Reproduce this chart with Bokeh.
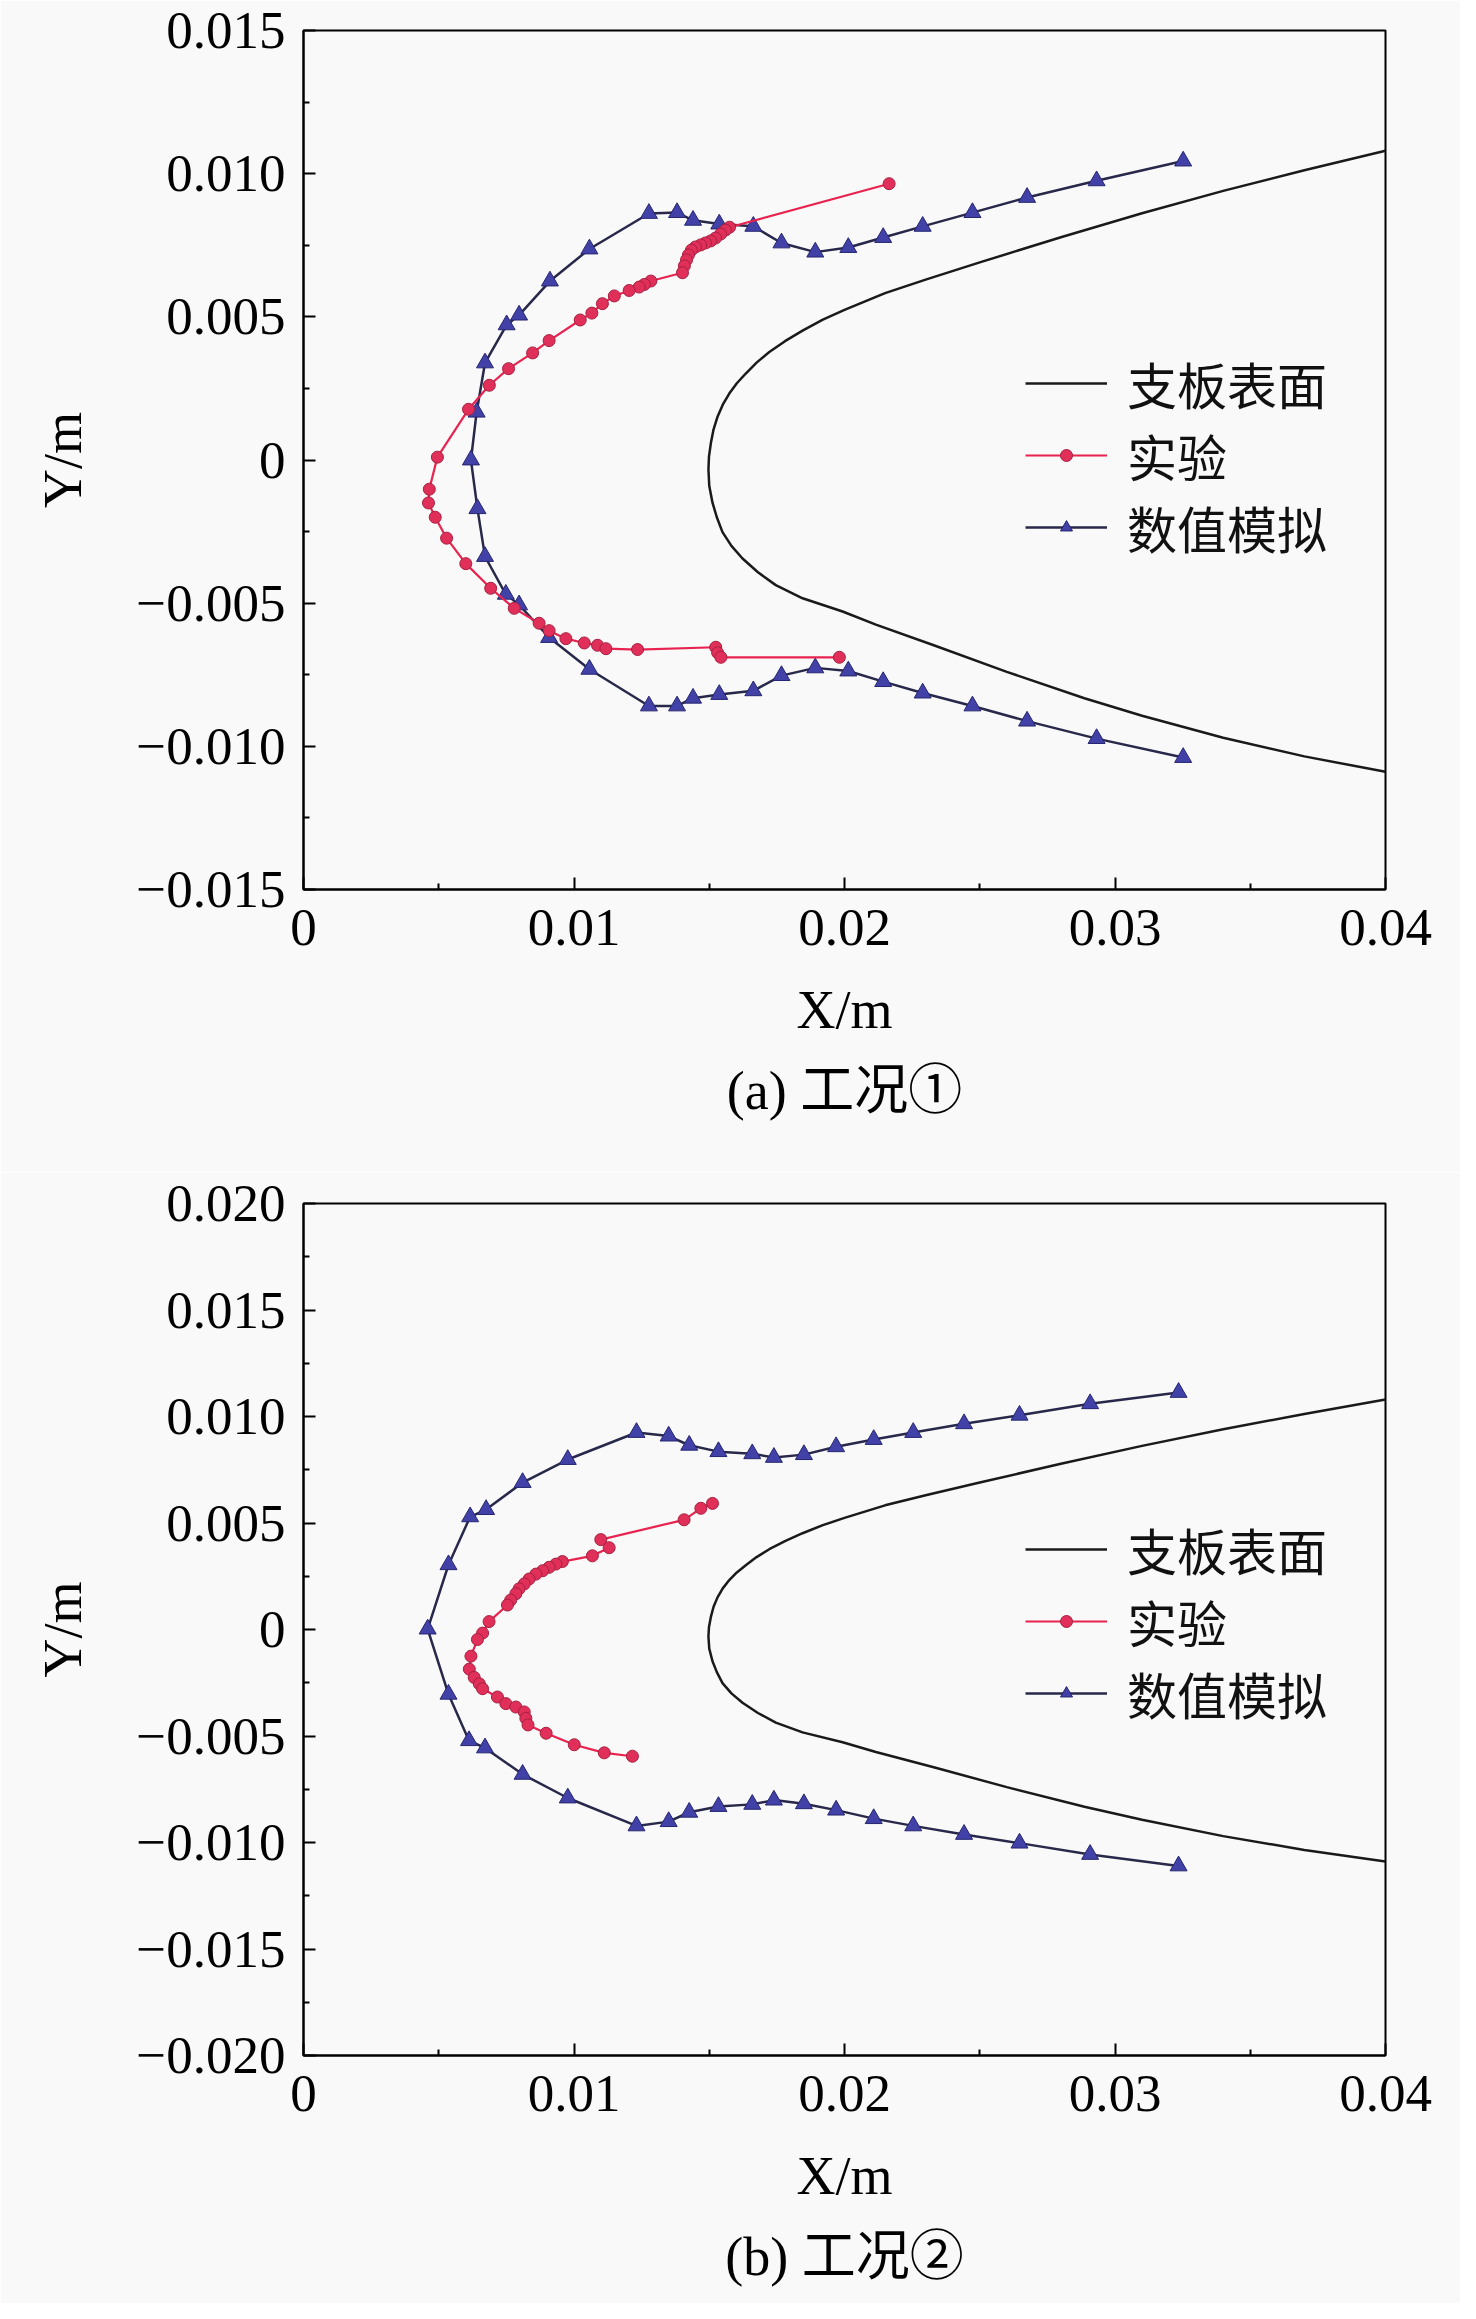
from bokeh.plotting import figure
from bokeh.models import FixedTicker, Legend, LegendItem, Title
from bokeh.layouts import column
from bokeh.embed import file_html
from bokeh.resources import INLINE

# ---------------- data ----------------
# strut surface (same in both panels)
strut_x = [0.0400, 0.0370, 0.0340, 0.0310, 0.0280, 0.0250, 0.0230, 0.0215, 0.0200,
           0.0192, 0.01845, 0.01780, 0.01722, 0.01675, 0.01635, 0.01602, 0.01574, 0.01550,
           0.01531, 0.01516, 0.01506, 0.01499, 0.01497, 0.01500,
           0.01512, 0.01528, 0.01549, 0.01582, 0.01623, 0.01680, 0.01746, 0.01845, 0.01993,
           0.02116, 0.0233, 0.0260, 0.02887, 0.0310, 0.0340, 0.0370, 0.0400]
strut_y = [0.01080, 0.01012, 0.00940, 0.00862, 0.00778, 0.00690, 0.00630, 0.00583, 0.00524,
           0.00490, 0.00452, 0.00415, 0.00377, 0.00340, 0.00302, 0.00268, 0.00232, 0.00193,
           0.00152, 0.00107, 0.00059, 0.00012, -0.00033, -0.00090,
           -0.00149, -0.00200, -0.00252, -0.00300, -0.00344, -0.00392, -0.00437, -0.00483, -0.00529,
           -0.00575, -0.00647, -0.00740, -0.00832, -0.00893, -0.00970, -0.01035, -0.01089]

# case 1: experiment
exp1_x = [0.02165, 0.01575, 0.0156, 0.01542, 0.01523, 0.01505, 0.01486, 0.01468, 0.01449,
          0.01434, 0.01423, 0.01416, 0.01408, 0.01401, 0.01284, 0.0126, 0.01241, 0.01204,
          0.01149, 0.01105, 0.01066, 0.01023, 0.00908, 0.00847, 0.00758, 0.00687, 0.0061,
          0.00495, 0.00465, 0.00462, 0.00487, 0.00529, 0.006, 0.00692, 0.00779, 0.00871,
          0.00908, 0.0097, 0.01038, 0.01087, 0.01118, 0.01235, 0.01524, 0.01531, 0.01543,
          0.01981]
exp1_y = [0.00965, 0.00813, 0.00803, 0.00789, 0.00775, 0.00765, 0.00758, 0.00751, 0.00744,
          0.00733, 0.00716, 0.00699, 0.00678, 0.00654, 0.00625, 0.00613, 0.00604, 0.00592,
          0.00573, 0.00546, 0.00513, 0.00489, 0.00417, 0.00374, 0.00319, 0.00261, 0.00177,
          0.0001, -0.00102, -0.0015, -0.0020, -0.00273, -0.00362, -0.00448, -0.00518, -0.0057,
          -0.00596, -0.00624, -0.00639, -0.00647, -0.00659, -0.00662, -0.00654, -0.00673, -0.00689,
          -0.00689]

# case 1: simulation
sim1_x = [0.03252, 0.02932, 0.02675, 0.02473, 0.02289, 0.02143, 0.02014, 0.01892, 0.01767,
          0.01663, 0.01537, 0.0144, 0.01381, 0.01277, 0.01057, 0.00911, 0.00797, 0.00751,
          0.00671, 0.0064, 0.00619, 0.00643, 0.00671, 0.00748, 0.00797, 0.00908, 0.01057,
          0.01277, 0.01381, 0.0144, 0.01537, 0.01663, 0.01767, 0.01892, 0.02014, 0.02143,
          0.02289, 0.02473, 0.02675, 0.02932, 0.03252]
sim1_y = [0.01044, 0.00975, 0.00917, 0.00864, 0.00816, 0.00777, 0.00742, 0.00726, 0.00758,
          0.00816, 0.00824, 0.00837, 0.00864, 0.00861, 0.00737, 0.00625, 0.00506, 0.00472,
          0.00339, 0.00167, 0.0, -0.0017, -0.00337, -0.00469, -0.00506, -0.0062, -0.00731,
          -0.00859, -0.00859, -0.00832, -0.00819, -0.00806, -0.00753, -0.00726, -0.00737, -0.00774,
          -0.00814, -0.00859, -0.00912, -0.00973, -0.01039]

# case 2: experiment
exp2_x = [0.01512, 0.01469, 0.01407, 0.01099, 0.0113, 0.01068, 0.00957, 0.00933, 0.00908,
          0.00884, 0.00859, 0.00834, 0.00816, 0.00797, 0.00785, 0.00766, 0.00754, 0.00686,
          0.00662, 0.00643, 0.00619, 0.00613, 0.00631, 0.0065, 0.00662, 0.00717, 0.00748,
          0.00785, 0.00816, 0.00822, 0.0083, 0.00897, 0.01001, 0.01112, 0.01216]
exp2_y = [0.00592, 0.00569, 0.00515, 0.00422, 0.00384, 0.00346, 0.00319, 0.00307, 0.00292,
          0.00276, 0.0026, 0.00237, 0.00214, 0.00191, 0.00168, 0.00138, 0.00115, 0.00037,
          -0.00017, -0.00047, -0.00125, -0.00186, -0.00225, -0.00255, -0.00278, -0.00317, -0.00348,
          -0.00364, -0.00387, -0.00417, -0.00448, -0.00487, -0.00541, -0.00579, -0.00595]

# case 2: simulation
sim2_x = [0.03235, 0.02908, 0.02647, 0.02442, 0.02254, 0.02108, 0.01969, 0.0185, 0.01739,
          0.01659, 0.01534, 0.01426, 0.0135, 0.01231, 0.00977, 0.0081, 0.00675, 0.00616,
          0.00536, 0.00459, 0.00536, 0.00612, 0.00671, 0.0081, 0.00977, 0.01231, 0.0135,
          0.01426, 0.01534, 0.01659, 0.01739, 0.0185, 0.01969, 0.02108, 0.02254, 0.02442,
          0.02647, 0.02908, 0.03235]
sim2_y = [0.01113, 0.0106, 0.01006, 0.00966, 0.00925, 0.00892, 0.00858, 0.00821, 0.00808,
          0.00825, 0.00835, 0.00865, 0.00908, 0.00925, 0.00798, 0.0069, 0.00563, 0.00529,
          0.00304, 0.00002, -0.00304, -0.00522, -0.00556, -0.0068, -0.00791, -0.00922, -0.00902,
          -0.00858, -0.00831, -0.00821, -0.00801, -0.00818, -0.00848, -0.00888, -0.00922, -0.00962,
          -0.01003, -0.01056, -0.0111]

x_ticks = [0.0, 0.01, 0.02, 0.03, 0.04]
x_tick_labels = ["0", "0.01", "0.02", "0.03", "0.04"]
x_minor = [0.005, 0.015, 0.025, 0.035]

y1_ticks = [-0.015, -0.01, -0.005, 0.0, 0.005, 0.01, 0.015]
y1_tick_labels = ["\u22120.015", "\u22120.010", "\u22120.005", "0", "0.005", "0.010", "0.015"]
y1_minor = [-0.0125, -0.0075, -0.0025, 0.0025, 0.0075, 0.0125]

y2_ticks = [-0.02, -0.015, -0.01, -0.005, 0.0, 0.005, 0.01, 0.015, 0.02]
y2_tick_labels = ["\u22120.020", "\u22120.015", "\u22120.010", "\u22120.005", "0",
                  "0.005", "0.010", "0.015", "0.020"]
y2_minor = [-0.0175, -0.0125, -0.0075, -0.0025, 0.0025, 0.0075, 0.0125, 0.0175]

legend_labels = ["支板表面", "实验", "数值模拟"]
captions = ["(a) 工况①", "(b) 工况②"]

# ---------------- style ----------------
BG = "#f9f9f9"
SERIF = "Liberation Serif"
CJK = "Noto Sans CJK SC"
MIXED = "'Liberation Serif', 'Noto Sans CJK SC'"
RED_LINE = "#e8234f"
RED_FILL = "#e0305a"
RED_EDGE = "#a81f40"
SIM_LINE = "#28284a"
SIM_FILL = "#4141a8"
SIM_EDGE = "#262670"


def make_panel(height, top, bottom, y_range, y_ticks, y_labels, y_minor,
               ex, ey, sx, sy, caption):
    p = figure(width=1460, height=height, x_range=(0, 0.04), y_range=y_range,
               output_backend="svg", toolbar_location=None,
               min_border_left=303, min_border_right=75,
               min_border_top=top, min_border_bottom=bottom,
               background_fill_color=BG, border_fill_color=BG)
    p.grid.visible = False
    p.outline_line_color = "black"
    p.outline_line_width = 2

    xa = p.xaxis[0]
    ya = p.yaxis[0]
    xa.ticker = FixedTicker(ticks=x_ticks, minor_ticks=x_minor)
    xa.major_label_overrides = dict(zip(x_ticks, x_tick_labels))
    ya.ticker = FixedTicker(ticks=y_ticks, minor_ticks=y_minor)
    ya.major_label_overrides = dict(zip(y_ticks, y_labels))
    xa.axis_label = "X/m"
    ya.axis_label = "Y/m"
    for ax in (xa, ya):
        ax.axis_line_width = 2
        ax.axis_line_color = "black"
        ax.major_tick_in = 12
        ax.major_tick_out = 0
        ax.minor_tick_in = 6
        ax.minor_tick_out = 0
        ax.major_tick_line_width = 2
        ax.minor_tick_line_width = 2
        ax.major_label_text_font = SERIF
        ax.major_label_text_font_size = "53px"
        ax.major_label_text_color = "black"
        ax.axis_label_text_font = SERIF
        ax.axis_label_text_font_size = "54px"
        ax.axis_label_text_font_style = "normal"
        ax.axis_label_text_color = "black"
    xa.major_label_standoff = 20
    xa.axis_label_standoff = 32
    ya.major_label_standoff = 18
    ya.axis_label_standoff = 40

    r_strut = p.line(strut_x, strut_y, line_color="#1a1a1a", line_width=2.5)
    r_sim_l = p.line(sx, sy, line_color=SIM_LINE, line_width=2.5)
    r_sim_p = p.scatter(sx, sy, marker="triangle", size=17, fill_color=SIM_FILL,
                        line_color=SIM_EDGE, line_width=1)
    r_exp_l = p.line(ex, ey, line_color=RED_LINE, line_width=2.2)
    r_exp_p = p.scatter(ex, ey, marker="circle", size=12, fill_color=RED_FILL,
                        line_color=RED_EDGE, line_width=1)

    lg = Legend(items=[
        LegendItem(label=legend_labels[0], renderers=[r_strut]),
        LegendItem(label=legend_labels[1], renderers=[r_exp_l, r_exp_p]),
        LegendItem(label=legend_labels[2], renderers=[r_sim_l, r_sim_p]),
    ], location=(722, 326))
    lg.border_line_color = None
    lg.background_fill_alpha = 0
    lg.padding = 0
    lg.margin = 0
    lg.spacing = 0
    lg.glyph_width = 82
    lg.glyph_height = 30
    lg.label_standoff = 20
    lg.label_text_font = CJK
    lg.label_text_font_size = "50px"
    lg.label_text_color = "#111111"
    p.add_layout(lg)

    p.add_layout(Title(text=caption, align="center", text_font=MIXED,
                       text_font_size="54px", text_font_style="normal",
                       text_color="black", standoff=33), "below")
    return p


p1 = make_panel(1172, 30, 283, (-0.015, 0.015), y1_ticks, y1_tick_labels, y1_minor,
                exp1_x, exp1_y, sim1_x, sim1_y, captions[0])
p2 = make_panel(1131, 31, 235, (-0.02, 0.02), y2_ticks, y2_tick_labels, y2_minor,
                exp2_x, exp2_y, sim2_x, sim2_y, captions[1])

layout = column(p1, p2, spacing=0)
open("out.html", "w").write(file_html(layout, INLINE))
